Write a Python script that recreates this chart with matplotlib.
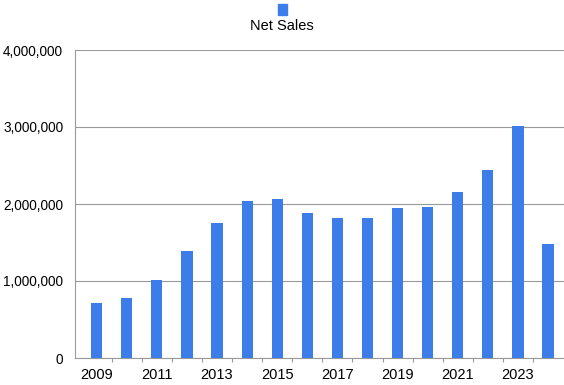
import numpy as np
import matplotlib.pyplot as plt
from matplotlib.ticker import FuncFormatter

plt.rcParams['font.family'] = ['Liberation Sans', 'DejaVu Sans']

years = list(range(2009, 2025))
net_sales = [710000, 785000, 1015000, 1395000, 1757000, 2043000, 2065000, 1887000,
             1822000, 1813000, 1952000, 1961000, 2151000, 2442000, 3017000, 1484000]

bar_color = '#3c7dea'

fig = plt.figure(figsize=(5.64, 3.85), dpi=100)
ax = fig.add_axes([75 / 564, 27 / 385, 489 / 564, 308 / 385])

x = np.arange(len(years))
ax.bar(x, net_sales, width=0.37, color=bar_color, zorder=3)

ax.set_ylim(0, 4000000)
ax.set_yticks([0, 1000000, 2000000, 3000000, 4000000])
ax.yaxis.set_major_formatter(FuncFormatter(lambda v, p: f'{int(v):,}'))
ax.yaxis.grid(True, color='#9a9a9a', linewidth=0.8, zorder=0)
ax.set_xlim(-0.72, len(years) - 0.47)
ax.set_xticks(x[::2])
ax.set_xticklabels([str(y) for y in years[::2]])
ax.set_xticks(x[:-1] + 0.5, minor=True)

ax.tick_params(axis='y', length=0, pad=8.5, labelsize=9.8, colors='black')
ax.tick_params(axis='x', which='major', length=0, pad=7, labelsize=10.5)
ax.tick_params(axis='x', which='minor', length=3, color='#9a9a9a', width=0.8)

for side in ['top', 'right']:
    ax.spines[side].set_visible(False)
for side in ['left', 'bottom']:
    ax.spines[side].set_color('#9a9a9a')
    ax.spines[side].set_linewidth(0.8)

# legend: square marker above the label
fig.patches.append(plt.Rectangle((278 / 564, 1 - 15 / 385), 9 / 564, 11 / 385,
                                 transform=fig.transFigure, color=bar_color))
fig.text(282 / 564, 1 - 26 / 385, 'Net Sales', ha='center', va='center', fontsize=10.5)

fig.savefig('out.png', dpi=100)
